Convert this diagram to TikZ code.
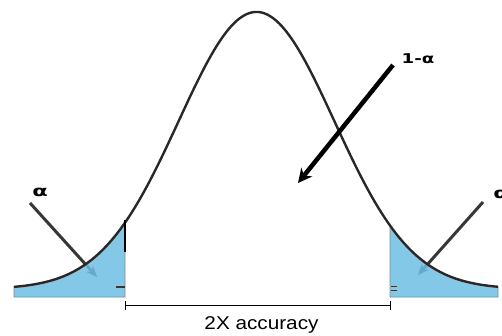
\documentclass[tikz,border=0pt]{standalone}
\usepackage{fontspec}
\setmainfont{Liberation Sans}
\newfontfamily\greekfont{DejaVu Sans}
\usetikzlibrary{arrows.meta}
\definecolor{tailblue}{RGB}{110,190,228}
\definecolor{curvegray}{RGB}{40,40,40}
\definecolor{arrowgray}{RGB}{55,55,55}
\tikzset{
  tailfill/.style={fill=tailblue, fill opacity=0.85, draw=arrowgray!60, line width=0.8pt},
  curveline/.style={draw=curvegray, line width=2.4pt, line join=round},
  tailarrow/.style={draw=arrowgray, line width=3pt, -{Stealth[length=11pt,width=9pt]}},
  mainarrow/.style={draw=black, line width=4.5pt, -{Stealth[length=14pt,width=14pt]}},
  greeklabel/.style={inner sep=0pt, font=\greekfont\bfseries},
  bracketline/.style={draw=black, line width=0.9pt},
  cutline/.style={draw=black, line width=2.4pt},
  smalltick/.style={draw=arrowgray, line width=1.2pt}
}
\begin{document}
\begin{tikzpicture}[x=1pt,y=-1pt]
\useasboundingbox (0,0) rectangle (502,336);
\clip (0,0) rectangle (502,336);
% labels
\node[greeklabel, font=\greekfont\bfseries\fontsize{15}{15}\selectfont] (aL) at (40,192) {\scalebox{1.5}[1]{α}};
\node[greeklabel, font=\greekfont\bfseries\fontsize{15}{15}\selectfont] (aR) at (501,194) {\scalebox{1.5}[1]{α}};
\node[greeklabel, font=\greekfont\bfseries\fontsize{13.5}{13.5}\selectfont] (oneminus) at (418,59) {\scalebox{1.35}[1]{1-α}};
% arrow end points
\coordinate (aLs) at (30,203);
\coordinate (aLt) at (97,277);
\coordinate (aRs) at (483,202);
\coordinate (aRt) at (418,275);
\coordinate (ms) at (393,65);
\coordinate (mt) at (298,183);
% tail arrows (under the fill)
\draw[tailarrow] (aLs) -- (aLt);
\draw[tailarrow] (aRs) -- (aRt);
% tail areas
\path[tailfill] (14,297) -- plot[domain=14:125,samples=80] ({\x},{289-277*exp(-((\x-256.5)/110)*((\x-256.5)/110))}) -- (125,297) -- cycle;
\path[tailfill] (390,297) -- plot[domain=390:498,samples=80] ({\x},{289-277*exp(-((\x-256.5)/110)*((\x-256.5)/110))}) -- (498,297) -- cycle;
% curve
\draw[curveline] plot[domain=14:498,samples=300] ({\x},{289-277*exp(-((\x-256.5)/110)*((\x-256.5)/110))});
% cut markers
\coordinate (cLt) at (125,220);
\coordinate (cLb) at (125,252);
\draw[cutline] (cLt) -- (cLb);
\coordinate (tk1) at (116,287);
\coordinate (tk2) at (125,287);
\draw[smalltick] (tk1) -- (tk2);
\coordinate (tr1) at (391,286);
\coordinate (tr2) at (397,286);
\coordinate (tr3) at (391,290);
\coordinate (tr4) at (397,290);
\draw[smalltick, line width=0.8pt] (tr1) -- (tr2) (tr3) -- (tr4);
% main arrow
\draw[mainarrow] (ms) -- (mt);
% bracket
\coordinate (bL) at (125,305.5);
\coordinate (bR) at (390,305.5);
\draw[bracketline] (bL) -- (bR);
\draw[bracketline] ([yshift=-4.5pt]bL) -- ([yshift=5pt]bL);
\draw[bracketline] ([yshift=-4.5pt]bR) -- ([yshift=5pt]bR);
\node[inner sep=0pt, anchor=base, font=\fontsize{18.5}{18.5}\selectfont] (acc) at (261.5,329.5) {\scalebox{1.12}[1]{2X accuracy}};
\end{tikzpicture}
\end{document}
